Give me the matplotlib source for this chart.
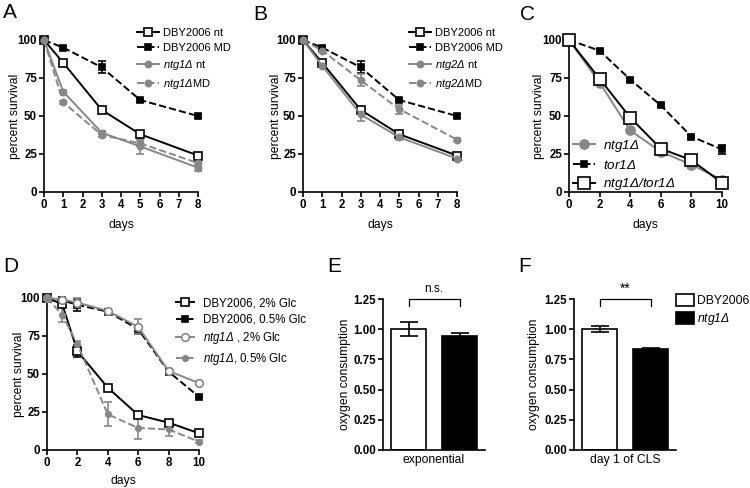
"""Survival curves and oxygen consumption panels (A-F)."""

import matplotlib
matplotlib.use("Agg")
import matplotlib.pyplot as plt
from matplotlib.patches import Patch

plt.rcParams["font.family"] = ["Liberation Sans", "DejaVu Sans"]
plt.rcParams["mathtext.fontset"] = "custom"
plt.rcParams["mathtext.rm"] = "Liberation Sans"
plt.rcParams["mathtext.sf"] = "Liberation Sans:italic"

GRAY = "#878787"

# --- data -----------------------------------------------------------------
days_ab = [0, 1, 3, 5, 8]
dby_nt = [100, 85, 54, 38, 24]
dby_nt_err = [0, 1, 2, 2, 1.5]
dby_md = [100, 95, 82, 60.5, 50]
dby_md_err = [0, 1, 4, 1, 1]
ntg1_nt = [100, 66, 39, 30, 16]
ntg1_nt_err = [0, 1, 1, 5, 2]
ntg1_md = [100, 59, 37.5, 32, 19]
ntg1_md_err = [0, 1, 1, 2, 2]
ntg2_nt = [100, 83, 51, 36, 22]
ntg2_nt_err = [0, 1, 4, 2, 1]
ntg2_md = [100, 93, 73.5, 54.5, 34.5]
ntg2_md_err = [0, 1, 4, 3, 1]

days_c = [0, 2, 4, 6, 8, 10]
c_ntg1 = [100, 72, 40.5, 26.5, 18, 8]
c_tor1 = [100, 93, 74, 57, 36.5, 28]
c_tor1_err = [0, 1, 1, 1, 1, 3]
c_double = [100, 74.5, 49, 28.5, 21, 6]

days_d = [0, 1, 2, 4, 6, 8, 10]
d_dby_2 = [100, 96, 65, 41, 23, 18, 11]
d_dby_2_err = [0, 2, 4, 1, 1, 1, 1]
d_dby_05 = [100, 98.5, 95.5, 91, 79.5, 51.5, 35]
d_dby_05_err = [0, 1, 4, 1, 3, 1, 1]
d_ntg1_2 = [100, 99, 97, 91.5, 81, 52, 44]
d_ntg1_2_err = [0, 1, 3, 1, 5, 1, 1]
d_ntg1_05 = [100, 89, 69.5, 23.5, 14.5, 13.5, 5.5]
d_ntg1_05_err = [0, 5, 2, 8, 7, 4, 1]

strains = ["DBY2006", "ntg1Δ"]
o2_exp = [1.00, 0.94]
o2_exp_err = [0.06, 0.03]
o2_cls = [1.00, 0.835]
o2_cls_err = [0.025, 0.01]


def it(s):
    return r"$\mathsf{" + s + "}$"


fig = plt.figure(figsize=(7.5, 4.88), dpi=100)


def px_axes(left, top, right, bottom):
    W, H = 750, 488
    return fig.add_axes([left / W, 1 - bottom / H, (right - left) / W, (bottom - top) / H])


def style(ax, xticks, xmax, ylabel, ylab_x, xlabel=None, yticks=(0, 25, 50, 75, 100), ymax=100,
          xlab_pad=6):
    ax.set_xlim(0, xmax)
    ax.set_ylim(0, ymax)
    ax.set_xticks(xticks)
    ax.set_yticks(yticks)
    for s in ("top", "right"):
        ax.spines[s].set_visible(False)
    for s in ("left", "bottom"):
        ax.spines[s].set_linewidth(1.2)
    ax.tick_params(length=3.5, width=1.2, labelsize=8.3, pad=1.5)
    for lab in ax.get_xticklabels() + ax.get_yticklabels():
        lab.set_fontweight("bold")
    ax.set_ylabel(ylabel, fontsize=8.7)
    ax.yaxis.set_label_coords(ylab_x, 0.5)
    if xlabel:
        ax.set_xlabel(xlabel, fontsize=8.7, labelpad=xlab_pad)


def curve(ax, x, y, err=None, color="black", ls="-", marker="s", ms=5, mfc=None, lw=1.4, label=None):
    if err is not None:
        ax.errorbar(x, y, yerr=err, fmt="none", ecolor=color, capsize=3, elinewidth=1.2,
                    capthick=1.2, clip_on=False, zorder=2)
    ax.plot(x, y, color=color, ls=ls, lw=lw, marker=marker, ms=ms,
            mfc=mfc if mfc else color, mec=color, mew=1.2, clip_on=False, label=label, zorder=3)


leg_kw = dict(frameon=False, borderpad=0, borderaxespad=0, handlelength=2.0,
              handletextpad=0.3, labelspacing=0.45, fontsize=8)

# --- A ---------------------------------------------------------------------
ax = px_axes(44, 40, 198, 192)
curve(ax, days_ab, dby_nt, dby_nt_err, "black", "-", "s", 5.5, "white", label="DBY2006 nt")
curve(ax, days_ab, dby_md, dby_md_err, "black", "--", "s", 5, label="DBY2006 MD")
curve(ax, days_ab, ntg1_nt, ntg1_nt_err, GRAY, "-", "o", 4.5, label=it("ntg1Δ") + " nt")
curve(ax, days_ab, ntg1_md, ntg1_md_err, GRAY, "--", "o", 4.5, label=it("ntg1Δ") + "MD")
style(ax, range(0, 9), 8, "percent survival", -0.15, "days")
ax.legend(loc="upper left", bbox_to_anchor=(137 / 750, 1 - 28 / 488),
          bbox_transform=fig.transFigure, **leg_kw)
fig.text(3 / 750, 1 - 12 / 488, "A", fontsize=15, va="center")

# --- B ---------------------------------------------------------------------
ax = px_axes(303, 40, 457, 192)
curve(ax, days_ab, dby_nt, dby_nt_err, "black", "-", "s", 5.5, "white", label="DBY2006 nt")
curve(ax, days_ab, dby_md, dby_md_err, "black", "--", "s", 5, label="DBY2006 MD")
curve(ax, days_ab, ntg2_nt, ntg2_nt_err, GRAY, "-", "o", 4.5, label=it("ntg2Δ") + " nt")
curve(ax, days_ab, ntg2_md, ntg2_md_err, GRAY, "--", "o", 4.5, label=it("ntg2Δ") + "MD")
style(ax, range(0, 9), 8, "percent survival", -0.135, "days")
ax.legend(loc="upper left", bbox_to_anchor=(409 / 750, 1 - 28 / 488),
          bbox_transform=fig.transFigure, **leg_kw)
fig.text(253 / 750, 1 - 14 / 488, "B", fontsize=15, va="center")

# --- C ---------------------------------------------------------------------
ax = px_axes(569, 40, 722, 192)
curve(ax, days_c, c_ntg1, None, GRAY, "-", "o", 6.5, label=it("ntg1Δ"))
curve(ax, days_c, c_tor1, c_tor1_err, "black", "--", "s", 5, label=it("tor1Δ"))
curve(ax, days_c, c_double, None, "black", "-", "s", 8, "white", label=it("ntg1Δ/tor1Δ"))
style(ax, range(0, 11, 2), 10, "percent survival", -0.155, "days")
ax.legend(loc="upper left", bbox_to_anchor=(573 / 750, 1 - 138 / 488),
          bbox_transform=fig.transFigure, frameon=False, borderpad=0, borderaxespad=0,
          handlelength=1.6, handletextpad=0.6, labelspacing=0.35, fontsize=9.7)
fig.text(520 / 750, 1 - 14 / 488, "C", fontsize=15, va="center")

# --- D ---------------------------------------------------------------------
ax = px_axes(47, 298, 199, 450)
curve(ax, days_d, d_dby_2, d_dby_2_err, "black", "-", "s", 5.5, "white", label="DBY2006, 2% Glc")
curve(ax, days_d, d_dby_05, d_dby_05_err, "black", "--", "s", 5, label="DBY2006, 0.5% Glc")
curve(ax, days_d, d_ntg1_2, d_ntg1_2_err, GRAY, "-", "o", 5.5, "white", label=it("ntg1Δ") + " , 2% Glc")
curve(ax, days_d, d_ntg1_05, d_ntg1_05_err, GRAY, "--", "o", 4, label=it("ntg1Δ") + ", 0.5% Glc")
style(ax, range(0, 11, 2), 10, "percent survival", -0.145, "days", xlab_pad=4.5)
ax.legend(loc="upper left", bbox_to_anchor=(176 / 750, 1 - 297 / 488),
          bbox_transform=fig.transFigure, frameon=False, borderpad=0, borderaxespad=0,
          handlelength=1.6, handletextpad=0.7, labelspacing=0.4, fontsize=8.3)
fig.text(3 / 750, 1 - 266 / 488, "D", fontsize=15, va="center")


# --- E / F -------------------------------------------------------------------
def bar_panel(ax, vals, errs, xlabel, sig, ylab_x):
    ax.bar([0, 1], vals, width=0.68, color=["white", "black"], edgecolor="black", lw=1.2, zorder=2)
    ax.errorbar([0, 1], vals, yerr=errs, fmt="none", ecolor="black", elinewidth=1.2,
                capsize=6.5, capthick=1.2, zorder=3)
    style(ax, [], 1.5, "oxygen consumption", ylab_x,
          yticks=[0, 0.25, 0.5, 0.75, 1.0, 1.25], ymax=1.25)
    ax.set_xlim(-0.5, 1.5)
    ax.set_yticklabels(["0.00", "0.25", "0.50", "0.75", "1.00", "1.25"], fontweight="bold")
    ax.set_xlabel(xlabel, fontsize=8.7, labelpad=3)
    ax.plot([0, 0, 1, 1], [1.19, 1.25, 1.25, 1.19], color="black", lw=0.9, clip_on=False)
    ax.text(0.5, 1.28, sig, ha="center", va="bottom", fontsize=8.5 if sig == "n.s." else 10)


ax = px_axes(383, 299, 485, 450)
bar_panel(ax, o2_exp, o2_exp_err, "exponential", "n.s.", -0.31)
fig.text(327 / 750, 1 - 266 / 488, "E", fontsize=15, va="center")

ax = px_axes(574, 299, 676, 450)
bar_panel(ax, o2_cls, o2_cls_err, "day 1 of CLS", "**", -0.33)
handles = [Patch(facecolor="white", edgecolor="black", lw=1.2),
           Patch(facecolor="black", edgecolor="black", lw=1.2)]
ax.legend(handles, [strains[0], it(strains[1])], loc="upper left",
          bbox_to_anchor=(676 / 750, 1 - 294 / 488), bbox_transform=fig.transFigure,
          frameon=False, borderpad=0, borderaxespad=0, handlelength=1.45, handleheight=1.1,
          handletextpad=0.3, labelspacing=0.35, fontsize=8.7)
fig.text(518 / 750, 1 - 267 / 488, "F", fontsize=15, va="center")

fig.savefig("out.png", dpi=100)
